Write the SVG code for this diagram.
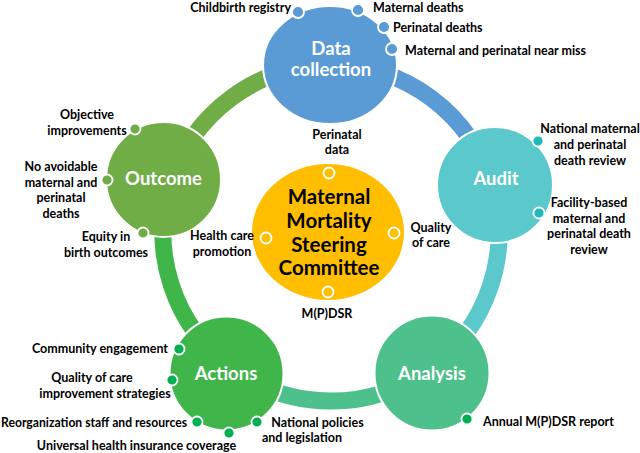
<svg xmlns="http://www.w3.org/2000/svg" width="640" height="453" viewBox="0 0 640 453">
<style>
.ring{fill:none;stroke-width:17}
.node{stroke:#fff;stroke-width:2}
.title{font-family:Lato,"Liberation Sans",sans-serif;font-weight:bold;font-size:18.5px;fill:#fff;text-anchor:middle}
.ctitle{font-family:Lato,"Liberation Sans",sans-serif;font-weight:bold;font-size:20.5px;fill:#000;text-anchor:middle}
.lbl{font-family:Lato,"Liberation Sans",sans-serif;font-weight:bold;font-size:12.5px;fill:#000}
.c{text-anchor:middle}
.e{text-anchor:end}
.dot{stroke:#fff;stroke-width:1.8}
</style>
<rect width="640" height="453" fill="#fff"/>
<g id="connectors">
<path class="ring" stroke="#5B9BD5" d="M330.1 65 A168 168 0 0 1 492.2 185.8"/>
<path class="ring" stroke="#5BC8CB" d="M492.2 185.8 A168 168 0 0 1 429.3 369.3"/>
<path class="ring" stroke="#4EC08B" d="M429.3 369.3 A168 168 0 0 1 230.6 367.7"/>
<path class="ring" stroke="#40B54A" d="M230.6 367.7 A168 168 0 0 1 170.8 182.5"/>
<path class="ring" stroke="#70AD47" d="M170.8 182.5 A168 168 0 0 1 330.1 65"/>
</g>
<g id="data-collection">
<ellipse class="node" cx="330" cy="65" rx="67" ry="59" fill="#5B9BD5"/>
<text class="title" x="331" y="54.5">Data</text>
<text class="title" x="331" y="75.5">collection</text>
<circle class="dot" cx="298" cy="12" r="6" fill="#5B9BD5"/>
<circle class="dot" cx="358" cy="10" r="6" fill="#5B9BD5"/>
<circle class="dot" cx="384" cy="27" r="6" fill="#5B9BD5"/>
<circle class="dot" cx="392" cy="49" r="6" fill="#5B9BD5"/>
<text class="lbl e" x="291" y="11.5">Childbirth registry</text>
<text class="lbl" x="373" y="11.5">Maternal deaths</text>
<text class="lbl" x="393" y="32">Perinatal deaths</text>
<text class="lbl" x="405" y="55">Maternal and perinatal near miss</text>
</g>
<g id="audit">
<circle class="node" cx="495" cy="185" r="58" fill="#5BC8CB"/>
<text class="title" x="496" y="184.5">Audit</text>
<circle class="dot" cx="538" cy="141" r="5.5" fill="#1DB9BB"/>
<circle class="dot" cx="539" cy="213" r="5.5" fill="#1DB9BB"/>
<text class="lbl c" x="590" y="133">National maternal</text>
<text class="lbl c" x="590" y="149">and perinatal</text>
<text class="lbl c" x="590" y="165">death review</text>
<text class="lbl c" x="589" y="207">Facility-based</text>
<text class="lbl c" x="589" y="223">maternal and</text>
<text class="lbl c" x="589" y="238">perinatal death</text>
<text class="lbl c" x="589" y="254">review</text>
</g>
<g id="analysis">
<circle class="node" cx="432" cy="373" r="57.5" fill="#4EC08B"/>
<text class="title" x="432" y="379.5">Analysis</text>
<circle class="dot" cx="467" cy="419" r="5.5" fill="#00B050"/>
<text class="lbl" x="483" y="426">Annual M(P)DSR report</text>
</g>
<g id="actions">
<circle class="node" cx="226.5" cy="373.5" r="57" fill="#40B54A"/>
<text class="title" x="226" y="379.5">Actions</text>
<circle class="dot" cx="179" cy="349" r="5.5" fill="#00B050"/>
<circle class="dot" cx="172" cy="380" r="5.5" fill="#00B050"/>
<circle class="dot" cx="197" cy="422" r="5.5" fill="#00B050"/>
<circle class="dot" cx="229" cy="433" r="5.5" fill="#00B050"/>
<circle class="dot" cx="257" cy="422" r="5.5" fill="#00B050"/>
<text class="lbl e" x="168" y="353">Community engagement</text>
<text class="lbl c" x="92" y="382">Quality of care</text>
<text class="lbl c" x="105" y="398">improvement strategies</text>
<text class="lbl" x="1" y="427" font-size="11.7" textLength="186" lengthAdjust="spacingAndGlyphs">Reorganization staff and resources</text>
<text class="lbl c" x="136.5" y="450">Universal health insurance coverage</text>
<text class="lbl c" x="317.5" y="427">National policies</text>
<text class="lbl c" x="302" y="442">and legislation</text>
</g>
<g id="outcome">
<circle class="node" cx="163.5" cy="179.5" r="57.5" fill="#70AD47"/>
<text class="title" x="163.5" y="184.5">Outcome</text>
<circle class="dot" cx="135" cy="129" r="5.5" fill="#70AD47"/>
<circle class="dot" cx="107" cy="180" r="5.5" fill="#70AD47"/>
<circle class="dot" cx="143" cy="233" r="5.5" fill="#70AD47"/>
<text class="lbl c" x="87" y="119">Objective</text>
<text class="lbl c" x="87" y="135">improvements</text>
<text class="lbl c" x="61" y="171">No avoidable</text>
<text class="lbl c" x="61" y="187">maternal and</text>
<text class="lbl c" x="61" y="202">perinatal</text>
<text class="lbl c" x="61" y="218">deaths</text>
<text class="lbl c" x="106" y="241">Equity in</text>
<text class="lbl c" x="106" y="257">birth outcomes</text>
</g>
<g id="steering-committee">
<ellipse cx="328" cy="232" rx="76" ry="68" fill="#FFBF00"/>
<text class="ctitle" x="329" y="204">Maternal</text>
<text class="ctitle" x="329" y="227.5">Mortality</text>
<text class="ctitle" x="329" y="252">Steering</text>
<text class="ctitle" x="329" y="275">Committee</text>
<circle class="dot" cx="329" cy="173" r="5.5" fill="#FFBF00"/>
<circle class="dot" cx="266" cy="238" r="5.5" fill="#FFBF00"/>
<circle class="dot" cx="394" cy="233" r="5.5" fill="#FFBF00"/>
<circle class="dot" cx="328" cy="292" r="5.5" fill="#FFBF00"/>
<text class="lbl c" x="337" y="139">Perinatal</text>
<text class="lbl c" x="337" y="154">data</text>
<text class="lbl c" x="222" y="240">Health care</text>
<text class="lbl c" x="222" y="256">promotion</text>
<text class="lbl c" x="431" y="232">Quality</text>
<text class="lbl c" x="431" y="247">of care</text>
<text class="lbl c" x="327" y="318">M(P)DSR</text>
</g>
</svg>
